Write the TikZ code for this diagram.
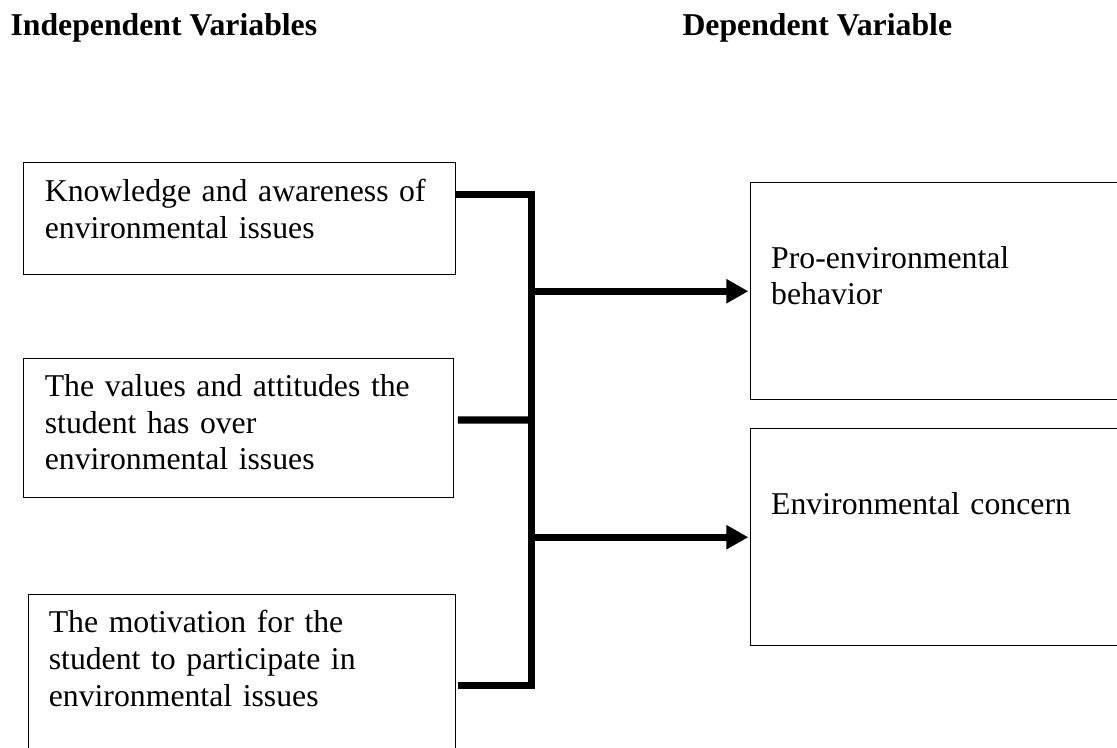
\documentclass[tikz,border=0pt]{standalone}
\usepackage{fontspec}
\setmainfont{Liberation Serif}
\usetikzlibrary{arrows.meta}
\tikzset{>=latex}
\tikzset{varbox/.style = {draw, line width=0.45pt, anchor=north west, inner sep=0pt},
         vartext/.style = {anchor=base west, inner sep=0pt, text width=160pt, align=left, font=\fontsize{12}{13.8}\selectfont},
         head/.style = {anchor=base west, inner sep=0pt, font=\fontsize{12}{13.8}\selectfont\bfseries},
         link/.style = {line width=2.65pt, line join=miter}}

\begin{document}
\begin{tikzpicture}[x=0.378pt, y=-0.378pt]
                    \useasboundingbox (0,0) rectangle (1117,748);
                    \clip (0,0) rectangle (1117,748);

                    \node[head] (indep) at (10,36) {Independent Variables};
                    \node[head] (dep) at (682,36) {Dependent Variable};

                    \node[varbox, minimum width=163pt, minimum height=42.4pt] (know) at (23.3,161.7) {};
                    \node[vartext] (knowtxt) at ([shift={(21,40)}]know.north west) {Knowledge and awareness of\\environmental issues};
                    \node[varbox, minimum width=162.3pt, minimum height=52.5pt] (vals) at (23.3,357.7) {};
                    \node[vartext] (valstxt) at ([shift={(21,39)}]vals.north west) {The values and attitudes the\\student has over\\environmental issues};
                    \node[varbox, minimum width=161.5pt, minimum height=70pt] (motiv) at (27.7,594) {};
                    \node[vartext] (motivtxt) at ([shift={(20.6,39)}]motiv.north west) {The motivation for the\\student to participate in\\environmental issues};

                    \node[varbox, minimum width=150pt, minimum height=81.9pt] (behav) at (750.3,182.3) {};
                    \node[vartext] (behavtxt) at ([shift={(20.4,86)}]behav.north west) {Pro-environmental\\behavior};
                    \node[varbox, minimum width=150pt, minimum height=81.9pt] (concern) at (750.3,428.3) {};
                    \node[vartext] (concerntxt) at ([shift={(20.4,86.7)}]concern.north west) {Environmental concern};

                    \coordinate (bustop) at (531.7,194.3);
                    \coordinate (busbot) at (531.7,685.3);
                    \coordinate (busmid) at (531.7,420);

                    \draw[link] ([shift={(0,32.6)}]know.north east) -- (bustop) -- (busbot) -- ([shift={(1.7,91.3)}]motiv.north east);
                    \draw[link] ([shift={(4,62.3)}]vals.north east) -- (busmid);
                    \draw[link, -{Triangle[length=8.3pt, width=8.7pt]}] (bustop |- behav.west) -- ([xshift=-0.75pt]behav.west);
                    \draw[link, -{Triangle[length=8.3pt, width=8.7pt]}] (bustop |- concern.west) -- ([xshift=-0.75pt]concern.west);
                \end{tikzpicture}
\end{document}
